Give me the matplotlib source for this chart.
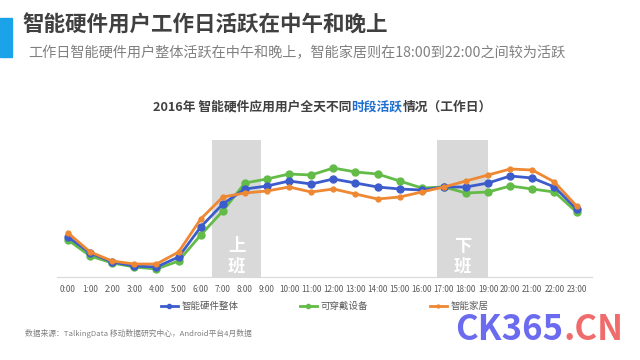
import numpy as np
import matplotlib
matplotlib.use("Agg")
import matplotlib.pyplot as plt
from matplotlib.patches import Rectangle

plt.rcParams['font.family'] = ['Noto Sans CJK SC', 'DejaVu Sans']

# 活跃指数
hours = [f"{h}:00" for h in range(24)]
zhengti = [40, 24, 15, 11, 10, 20, 50, 73, 88, 91, 96, 93,
           98, 94, 90, 88, 87, 90, 90, 94, 101, 99, 90, 68]
chuandai = [37, 21, 14, 10, 8, 16, 42, 66, 94, 98, 103, 102,
            109, 105, 103, 96, 89, 90, 84, 85, 91, 88, 85, 65]
jiaju = [44, 25, 16, 13, 13, 25, 58, 80, 84, 86, 90, 85,
         88, 83, 78, 80, 85, 90, 96, 102, 108, 107, 95, 71]
series_names = ["智能硬件整体", "可穿戴设备", "智能家居"]

# 上下班时段
shangban = (6.5, 8.75)
xiaban = (16.7, 19.0)

fig = plt.figure(figsize=(6.4, 3.6), dpi=100)
fig.patch.set_facecolor("white")

# 页眉
fig.patches.append(Rectangle((0, 1 - 57 / 360), 12 / 640, 39 / 360,
                             transform=fig.transFigure, color="#1aa3e8"))
fig.text(22 / 640, 1 - 25 / 360, "智能硬件用户工作日活跃在中午和晚上",
         fontsize=15.5, fontweight="bold", color="#404040", va="center")
fig.text(28 / 640, 1 - 53 / 360,
         "工作日智能硬件用户整体活跃在中午和晚上，智能家居则在18:00到22:00之间较为活跃",
         fontsize=10.2, color="#808080", va="center")

# 图表标题（中间四个字为蓝色）
t1 = "2016年 智能硬件应用用户全天不同"
t2 = "时段活跃"
t3 = "情况（工作日）"
ty = 1 - 107 / 360
tx = fig.text(153 / 640, ty, t1, fontsize=9.2, fontweight="bold",
              color="#404040", va="center")
fig.canvas.draw()
bb = tx.get_window_extent()
tx2 = fig.text(bb.x1 / 640, ty, t2, fontsize=9.2, fontweight="bold",
               color="#1f6fd0", va="center")
fig.canvas.draw()
bb2 = tx2.get_window_extent()
fig.text(bb2.x1 / 640, ty, t3, fontsize=9.2, fontweight="bold",
         color="#404040", va="center")

ax = fig.add_axes([57 / 640, 1 - 277 / 360, 535 / 640, 137 / 360])
x = np.arange(len(hours))

for (a, b), lab in [(shangban, "上\n班"), (xiaban, "下\n班")]:
    ax.axvspan(a, b, color="#d9d9d9", zorder=0, lw=0)
    ax.text((a + b) / 2, 21, lab, color="white", fontsize=12.5, fontweight="bold",
            ha="center", va="center", linespacing=1.15)

ax.plot(x, zhengti, color="#3d5ccc", lw=2, marker="o", ms=5, label=series_names[0], zorder=3)
ax.plot(x, chuandai, color="#63bb48", lw=2, marker="o", ms=5, label=series_names[1], zorder=2)
ax.plot(x, jiaju, color="#ee8833", lw=2, marker="o", ms=3.5, label=series_names[2], zorder=4)

ax.set_xlim(-0.5, 23.7)
ax.set_ylim(0, 137)
ax.set_xticks(x)
ax.set_xticklabels(hours, fontsize=5.8, color="#595959")
ax.tick_params(axis="x", length=0, pad=6)
ax.set_yticks([])
for s in ["top", "right", "left"]:
    ax.spines[s].set_visible(False)
ax.spines["bottom"].set_color("#d9d9d9")

ax.legend(loc="upper center", bbox_to_anchor=(0.5, -0.12), ncol=3, frameon=False,
          fontsize=6.8, handlelength=1.8, handletextpad=0.4, markerscale=0.6,
          columnspacing=6.5, labelcolor="#595959")

fig.text(25 / 640, 1 - 333 / 360, "数据来源：TalkingData 移动数据研究中心，Android平台4月数据",
         fontsize=5.6, color="#808080", va="center")

wm = fig.text(455 / 640, 1 - 329 / 360, "CK365", fontsize=25, fontweight="bold",
              color="#6b6bef", va="center")
fig.canvas.draw()
wb = wm.get_window_extent()
fig.text(wb.x1 / 640, 1 - 329 / 360, ".CN", fontsize=25, fontweight="bold",
         color="#f06b6b", va="center")

fig.savefig("out.png", dpi=100)
